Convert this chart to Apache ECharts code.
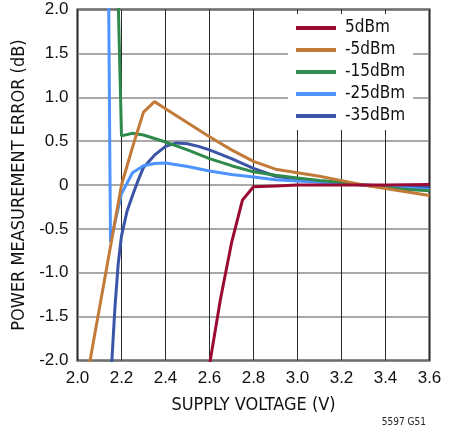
<!DOCTYPE html>
<html>
<head>
<meta charset="utf-8">
<script src="https://cdn.jsdelivr.net/npm/echarts@6/dist/echarts.min.js"></script>
<style>
html,body{margin:0;padding:0;background:#fff;}
#chart{width:457px;height:435px;}
</style>
</head>
<body>
<div id="chart"></div>
<script>
// Series names
const seriesNames = ['5dBm', '-5dBm', '-15dBm', '-25dBm', '-35dBm'];
const seriesColors = ['#9b0a32', '#c27a38', '#2f8a4c', '#4d94ff', '#3a55a8'];

// Data: [supply voltage (V), error (dB)]
const s5dBm = [[2.60,-2.05],[2.65,-1.30],[2.70,-0.66],[2.75,-0.17],[2.80,-0.02],[2.90,-0.01],[3.00,0.0],[3.20,0.0],[3.40,0.0],[3.60,0.005]];
const sM5dBm = [[2.05,-2.1],[2.10,-1.40],[2.15,-0.70],[2.20,0.0],[2.25,0.43],[2.30,0.83],[2.35,0.95],[2.40,0.87],[2.50,0.71],[2.60,0.55],[2.70,0.40],[2.80,0.27],[2.90,0.18],[3.00,0.14],[3.10,0.10],[3.20,0.05],[3.30,0.0],[3.40,-0.04],[3.50,-0.08],[3.60,-0.12]];
const sM15dBm = [[2.15,5.7],[2.20,0.56],[2.25,0.59],[2.30,0.57],[2.35,0.53],[2.40,0.49],[2.50,0.40],[2.60,0.30],[2.70,0.22],[2.80,0.15],[2.90,0.11],[3.00,0.08],[3.10,0.05],[3.20,0.03],[3.30,0.0],[3.40,-0.03],[3.50,-0.05],[3.60,-0.065]];
const sM25dBm = [[2.10,16],[2.15,-0.65],[2.20,-0.10],[2.25,0.14],[2.30,0.22],[2.35,0.245],[2.40,0.25],[2.50,0.21],[2.60,0.16],[2.70,0.12],[2.80,0.09],[2.90,0.06],[3.00,0.045],[3.10,0.03],[3.20,0.015],[3.30,0.0],[3.40,-0.02],[3.50,-0.035],[3.60,-0.05]];
const sM35dBm = [[2.154,-2.1],[2.17,-1.40],[2.185,-0.90],[2.20,-0.58],[2.225,-0.30],[2.25,-0.12],[2.275,0.05],[2.30,0.20],[2.35,0.34],[2.40,0.44],[2.45,0.48],[2.50,0.47],[2.55,0.44],[2.60,0.40],[2.70,0.30],[2.80,0.19],[2.90,0.10],[3.00,0.065],[3.10,0.04],[3.20,0.02],[3.30,0.0],[3.40,-0.01],[3.50,-0.02],[3.60,-0.026]];
const allData = [s5dBm, sM5dBm, sM15dBm, sM25dBm, sM35dBm];

const xTitle = 'SUPPLY VOLTAGE (V)';
const yTitle = 'POWER MEASUREMENT ERROR (dB)';
const noteText = '5597 G51';

const tickFont = "'Liberation Sans', Arial, sans-serif";
const nameFont = "'Liberation Sans Narrow', 'Arial Narrow', 'DejaVu Sans Condensed', sans-serif";

const chart = echarts.init(document.getElementById('chart'), null, {renderer: 'canvas'});
chart.setOption({
  animation: false,
  backgroundColor: '#fff',
  grid: {left: 77.5, right: 27.5, top: 9.5, bottom: 74.5, show: true, borderColor: '#1a1a1a', borderWidth: 2, backgroundColor: 'transparent'},
  legend: {
    orient: 'vertical', left: 288, top: 14,
    padding: [5, 8, 5, 8], itemGap: 4,
    backgroundColor: '#fff',
    icon: 'rect', itemWidth: 40, itemHeight: 4,
    textStyle: {fontFamily: nameFont, fontSize: 17, lineHeight: 18, color: '#111', padding: [0,0,0,4]},
    data: seriesNames
  },
  xAxis: {
    type: 'value', min: 2.0, max: 3.6, interval: 0.2,
    name: xTitle, nameLocation: 'middle', nameGap: 36,
    nameTextStyle: {fontFamily: nameFont, fontSize: 18, color: '#111'},
    axisLine: {show: false}, axisTick: {show: false},
    axisLabel: {fontFamily: tickFont, fontSize: 17, color: '#111', margin: 9, formatter: v => v.toFixed(1)},
    splitLine: {show: true, lineStyle: {color: '#2a2a2a', width: 1}}
  },
  yAxis: {
    type: 'value', min: -2.0, max: 2.0, interval: 0.5,
    name: yTitle, nameLocation: 'middle', nameGap: 44, nameRotate: 90,
    nameTextStyle: {fontFamily: nameFont, fontSize: 18, color: '#111'},
    axisLine: {show: false}, axisTick: {show: false},
    axisLabel: {fontFamily: tickFont, fontSize: 17, color: '#111', margin: 9, formatter: v => v === 0 ? '0' : v.toFixed(1)},
    splitLine: {show: true, lineStyle: {color: '#8c8c8c', width: 1.5}}
  },
  series: seriesNames.map((n, i) => ({
    name: n, type: 'line', data: allData[i], showSymbol: false, symbol: 'none',
    clip: true, z: 10 - i,
    lineStyle: {color: seriesColors[i], width: 3},
    itemStyle: {color: seriesColors[i]}
  })),
  graphic: [{
    type: 'text', right: 31, top: 417,
    style: {text: noteText, fontFamily: nameFont, fontSize: 10, fill: '#222'}
  }]
});
</script>
</body>
</html>
